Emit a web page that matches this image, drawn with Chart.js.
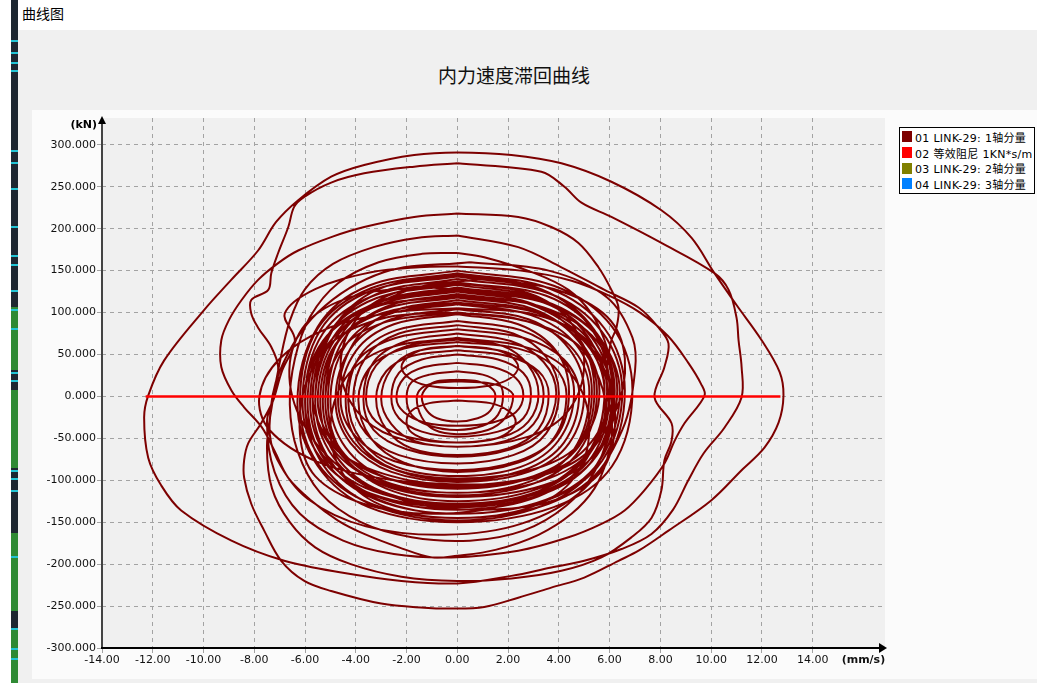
<!DOCTYPE html>
<html>
<head>
<meta charset="utf-8">
<title>曲线图</title>
<script src="https://cdn.jsdelivr.net/npm/chart.js@4/dist/chart.umd.min.js"></script>
<style>
  html, body { margin: 0; padding: 0; background: #ffffff; }
  body { width: 1037px; height: 683px; position: relative; overflow: hidden; font-family: "DejaVu Sans", "Noto Sans CJK SC", sans-serif; }
  #sidebar { position: absolute; left: 11px; top: 0; width: 7px; height: 683px; background: #1d2731; }
  .mark { position: absolute; left: 0; width: 7px; }
  #caption { position: absolute; left: 22px; top: 4px; font: 14px "Noto Sans CJK SC", sans-serif; color: #000; line-height: 18px; }
  #frame { position: absolute; left: 18px; top: 30px; width: 1019px; height: 653px; background: #f0f0f0; }
  #title { position: absolute; left: 19px; top: 61px; width: 990px; text-align: center; font: 19px "Noto Sans CJK SC", sans-serif; color: #111; line-height: 27px; }
  #panel { position: absolute; left: 32px; top: 110px; width: 1005px; height: 569px; background: #fbfbfb; }
  #chart { position: absolute; left: 32px; top: 110px; }
  #legend { position: absolute; left: 899px; top: 127px; width: 134px; height: 64px; border: 1px solid #000; background: #fff; padding-top: 1px; }
  .item { height: 15.7px; display: flex; align-items: center; font: 11px "DejaVu Sans", "Noto Sans CJK SC", sans-serif; letter-spacing: 0.3px; color: #000; white-space: nowrap; }
  .swatch { width: 10px; height: 11px; margin: 0 3px 0 2px; flex: none; }
</style>
</head>
<body>
<div id="sidebar"></div>
<div id="caption">曲线图</div>
<div id="frame"></div>
<div id="title">内力速度滞回曲线</div>
<div id="panel"></div>
<canvas id="chart" width="1005" height="570"></canvas>
<div id="legend"></div>
<script>
// Series names shown in the legend
const seriesNames = ['01 LINK-29: 1轴分量', '02 等效阻尼 1KN*s/m', '03 LINK-29: 2轴分量', '04 LINK-29: 3轴分量'];

// Axis tick values: velocity (mm/s) and force (kN)
const speedTicks = [-14, -12, -10, -8, -6, -4, -2, 0, 2, 4, 6, 8, 10, 12, 14];
const forceTicks = [-300, -250, -200, -150, -100, -50, 0, 50, 100, 150, 200, 250, 300];

// Hysteresis cycles of LINK-29 axis 1: [velocity mm/s, force kN]
const cycle01 = [[0,20],[0.8,18],[1.3,11],[1.5,1],[1.3,-17],[0.8,-26],[0,-30],[-0.8,-26],[-1.2,-17],[-1.4,-1],[-1.2,11],[-0.8,18]];
const cycle02 = [[0,30],[1.0,26],[1.6,17],[1.8,2],[1.6,-22],[1.0,-35],[0,-40],[-1.1,-35],[-1.8,-22],[-2.0,-2],[-1.8,17],[-1.1,26]];
const cycle03 = [[0,18],[1.2,16],[1.9,10],[2.2,1],[1.9,-25],[1.2,-40],[0,-45],[-0.9,-40],[-1.4,-25],[-1.6,-2],[-1.4,10],[-0.9,16]];
const cycle04 = [[0,40],[1.4,35],[2.3,22],[2.6,2],[2.3,-19],[1.4,-31],[0,-35],[-1.3,-31],[-2.1,-19],[-2.4,-2],[-2.1,22],[-1.3,35]];
const cycle05 = [[0,60],[1.3,57],[2.1,48],[2.4,35],[2.1,22],[1.3,13],[0,10],[-1.2,13],[-1.9,22],[-2.2,35],[-1.9,48],[-1.2,57]];
const cycle06 = [[0,-5],[1.3,-8],[2.0,-17],[2.3,-30],[2.0,-43],[1.3,-52],[0,-55],[-1.1,-52],[-1.8,-43],[-2.0,-30],[-1.8,-17],[-1.1,-8]];
const cycle07 = [[0,50],[1.6,44],[2.6,28],[2.9,3],[2.6,-26],[1.6,-42],[0,-48],[-1.4,-42],[-2.3,-26],[-2.6,-2],[-2.3,28],[-1.4,44]];
const cycle08 = [[0,55],[2.0,48],[3.2,30],[3.6,3],[3.2,-39],[2.0,-62],[0,-70],[-1.8,-62],[-2.8,-39],[-3.2,-3],[-2.8,30],[-1.8,48]];
const cycle09 = [[0,60],[1.9,53],[3.0,33],[3.4,3],[3.0,-33],[1.9,-53],[0,-60],[-1.7,-53],[-2.6,-33],[-3.0,-3],[-2.6,33],[-1.7,53]];
const cycle10 = [[0,65],[2.4,57],[3.8,36],[4.3,3],[3.8,-50],[2.4,-79],[0,-90],[-2.1,-79],[-3.4,-50],[-3.9,-4],[-3.4,36],[-2.1,57]];
const cycle11 = [[0,68],[1.8,60],[2.8,37],[3.2,3],[2.8,-30],[1.8,-48],[0,-55],[-2.0,-48],[-3.2,-30],[-3.6,-3],[-3.2,37],[-2.0,60]];
const cycle12 = [[0,70],[2.9,57],[4.6,22],[5.2,-38],[4.6,-97],[2.9,-132],[0,-145],[-2.8,-132],[-4.4,-97],[-5.0,-40],[-4.4,22],[-2.8,57]];
const cycle13 = [[0,75],[2.1,66],[3.4,41],[3.9,4],[3.4,-40],[2.1,-63],[0,-72],[-2.0,-63],[-3.3,-40],[-3.7,-4],[-3.3,41],[-2.0,66]];
const cycle14 = [[0,80],[2.6,70],[4.2,44],[4.8,4],[4.2,-55],[2.6,-88],[0,-100],[-2.4,-88],[-3.9,-55],[-4.4,-5],[-3.9,44],[-2.4,70]];
const cycle15 = [[0,85],[2.2,75],[3.5,47],[4.0,4],[3.5,-44],[2.2,-70],[0,-80],[-2.3,-70],[-3.6,-44],[-4.1,-4],[-3.6,47],[-2.3,75]];
const cycle16 = [[0,90],[2.5,79],[4.0,50],[4.6,5],[4.0,-52],[2.5,-84],[0,-95],[-2.4,-84],[-3.8,-52],[-4.3,-5],[-3.8,50],[-2.4,79]];
const cycle17 = [[0,98],[2.4,86],[3.9,54],[4.4,5],[3.9,-48],[2.4,-77],[0,-88],[-2.5,-77],[-4.0,-48],[-4.6,-4],[-4.0,54],[-2.5,86]];
const cycle18 = [[0,100],[2.9,88],[4.6,55],[5.2,5],[4.6,-63],[2.9,-101],[0,-115],[-2.9,-101],[-4.6,-63],[-5.2,-6],[-4.6,55],[-2.9,88]];
const cycle19 = [[0,104],[2.8,92],[4.4,57],[5.0,5],[4.4,-56],[2.8,-90],[0,-102],[-2.6,-90],[-4.2,-56],[-4.8,-5],[-4.2,57],[-2.6,92]];
const cycle20 = [[0,110],[2.9,97],[4.7,61],[5.3,6],[4.7,-61],[2.9,-97],[0,-110],[-2.8,-97],[-4.4,-61],[-5.0,-6],[-4.4,61],[-2.8,97]];
const cycle21 = [[0,112],[3.2,99],[5.1,62],[5.8,6],[5.1,-70],[3.2,-113],[0,-128],[-3.0,-113],[-4.8,-70],[-5.4,-6],[-4.8,62],[-3.0,99]];
const cycle22 = [[0,115],[3.1,101],[4.9,63],[5.6,6],[4.9,-54],[3.1,-86],[0,-98],[-2.6,-86],[-4.1,-54],[-4.7,-5],[-4.1,63],[-2.6,101]];
const cycle23 = [[0,118],[3.0,104],[4.8,65],[5.5,6],[4.8,-65],[3.0,-104],[0,-118],[-2.9,-104],[-4.7,-65],[-5.3,-6],[-4.7,65],[-2.9,104]];
const cycle24 = [[0,120],[3.4,106],[5.5,66],[6.2,6],[5.5,-81],[3.4,-130],[0,-148],[-3.3,-130],[-5.3,-81],[-6.0,-7],[-5.3,66],[-3.3,106]];
const cycle25 = [[0,122],[3.2,107],[5.2,67],[5.9,6],[5.2,-69],[3.2,-110],[0,-125],[-2.8,-110],[-4.5,-69],[-5.1,-6],[-4.5,67],[-2.8,107]];
const cycle26 = [[0,125],[3.0,110],[4.8,69],[5.4,6],[4.8,-59],[3.0,-95],[0,-108],[-3.0,-95],[-4.8,-59],[-5.5,-5],[-4.8,69],[-3.0,110]];
const cycle27 = [[0,126],[3.5,111],[5.6,69],[6.4,6],[5.6,-77],[3.5,-123],[0,-140],[-3.2,-123],[-5.2,-77],[-5.9,-7],[-5.2,69],[-3.2,111]];
const cycle28 = [[0,128],[3.3,113],[5.3,70],[6.0,6],[5.3,-72],[3.3,-114],[0,-130],[-3.1,-114],[-4.9,-72],[-5.6,-6],[-4.9,70],[-3.1,113]];
const cycle29 = [[0,130],[3.4,114],[5.5,72],[6.2,7],[5.5,-66],[3.4,-106],[0,-120],[-2.9,-106],[-4.6,-66],[-5.2,-6],[-4.6,72],[-2.9,114]];
const cycle30 = [[0,133],[3.2,117],[5.1,73],[5.8,7],[5.1,-74],[3.2,-119],[0,-135],[-3.2,-119],[-5.1,-74],[-5.8,-7],[-5.1,73],[-3.2,117]];
const cycle31 = [[0,135],[2.8,123],[4.4,91],[5.0,40],[4.4,-16],[2.8,-48],[0,-60],[-2.5,-48],[-4.0,-16],[-4.6,36],[-4.0,91],[-2.5,123]];
const cycle32 = [[0,136],[3.5,120],[5.5,75],[6.3,7],[5.5,-70],[3.5,-113],[0,-128],[-3.3,-113],[-5.3,-70],[-6.0,-6],[-5.3,75],[-3.3,120]];
const cycle33 = [[0,140],[3.6,123],[5.7,77],[6.5,7],[5.7,-77],[3.6,-123],[0,-140],[-3.1,-123],[-5.0,-77],[-5.7,-7],[-5.0,77],[-3.1,123]];
const cycle34 = [[0,143],[3.4,126],[5.4,79],[6.1,7],[5.4,-73],[3.4,-116],[0,-132],[-3.4,-116],[-5.4,-73],[-6.1,-7],[-5.4,79],[-3.4,126]];
const cycle35 = [[0,145],[3.3,128],[5.3,80],[6.0,7],[5.3,-63],[3.3,-101],[0,-115],[-3.1,-101],[-4.9,-63],[-5.6,-6],[-4.9,80],[-3.1,128]];
const cycle36 = [[0,147],[3.6,129],[5.8,81],[6.6,7],[5.8,-80],[3.6,-128],[0,-145],[-3.4,-128],[-5.5,-80],[-6.2,-7],[-5.5,81],[-3.4,129]];
const cycle37 = [[0,150],[3.8,132],[6.1,83],[6.9,8],[6.1,-83],[3.8,-132],[0,-150],[-3.5,-132],[-5.5,-83],[-6.3,-8],[-5.5,83],[-3.5,132]];
const cycle38 = [[0,155],[2.5,150],[4.5,138],[6.0,120],[7.2,100],[8.3,72],[9.1,40],[9.6,15],[9.74,1],[8.95,-32],[8.56,-53],[8.16,-80],[7.37,-112],[6.59,-136],[5.68,-152],[4.38,-168],[2.4,-184],[-0.24,-192],[-2.5,-188],[-4.5,-172],[-6.2,-140],[-7.2,-90],[-7.5,-30],[-7.2,0],[-6.9,31],[-6.4,67],[-6.8,99],[-5.6,128],[-3.4,148],[-1.5,154]];
const cycle39 = [[0,171],[1.06,166],[3.04,147],[4.38,127],[5.28,99],[5.8,67],[6.07,35],[6.15,-1],[6.0,-40],[5.4,-90],[4.3,-130],[2.6,-160],[0.5,-172],[-1.8,-168],[-3.8,-150],[-5.4,-115],[-6.3,-65],[-6.6,-10],[-6.4,45],[-5.8,95],[-4.7,135],[-3.1,160],[-1.4,170]];
const cycle40 = [[0,192],[2.4,178],[4.1,154],[5.8,127],[7.14,106],[7.93,82],[8.32,63],[8.16,35],[7.77,-1],[8.44,-32],[8.44,-53],[8.16,-76],[8.04,-112],[7.65,-145],[6.86,-168],[5.68,-192],[4.1,-208],[2.13,-217],[0,-220],[-2.2,-215],[-4.2,-200],[-5.6,-180],[-6.6,-150],[-7.3,-110],[-7.5,-60],[-7.3,-10],[-7.0,40],[-6.6,90],[-6.0,128],[-4.9,158],[-3.3,178],[-1.6,189]];
const cycle41 = [[0,218],[2.4,214],[3.7,202],[4.77,183],[5.56,154],[6.07,127],[6.35,106],[6.27,82],[6.07,67],[5.95,47],[5.88,27],[5.95,-1],[6.1,-40],[5.9,-75],[5.4,-110],[4.5,-140],[3.2,-165],[1.5,-183],[0,-190],[-1.0,-192],[-2.3,-180],[-3.67,-164],[-4.7,-148],[-5.76,-124],[-6.66,-97],[-7.2,-65],[-7.7,-37],[-8.4,-13],[-8.9,7],[-9.3,35],[-9.3,67],[-9.0,91],[-8.5,115],[-7.85,139],[-7.06,159],[-6.27,174],[-4.97,190],[-3.67,202],[-1.7,214]];
// two-turn peak cycle: inner loop right side, outer loop left side, outer loop right side, inner loop left side
const cycle42 = [[0,278],[3.31,268],[4.22,250],[4.89,231],[6.07,214],[8.04,183],[10.13,147],[10.69,127],[11.0,94],[11.08,67],[11.2,35],[11.2,-1],[10.53,-37],[9.7,-68],[9.1,-100],[8.5,-135],[7.65,-164],[6.47,-182],[5.0,-196],[3.7,-204],[2.13,-214],[0,-223],[-2.2,-220],[-4.57,-210],[-6.82,-196],[-8.9,-172],[-10.88,-136],[-11.67,-106],[-12.18,-73],[-12.34,-25],[-12.18,1],[-11.55,43],[-9.98,103],[-8.91,139],[-7.85,174],[-7.14,208],[-6.27,234],[-4.97,262],[-3.67,276],[-1.7,288],
  [0,291],[2.13,288],[4.1,278],[6.07,256],[8.04,222],[9.23,189],[10.13,147],[11.0,109],[11.99,67],[12.7,29],[12.85,1],[12.66,-31],[12.1,-61],[11.2,-88],[10.0,-124],[8.32,-160],[7.14,-184],[6.35,-196],[5.0,-216],[3.7,-228],[2.4,-240],[1.06,-251],[-0.24,-253],[-1.3,-252],[-3.0,-247],[-4.97,-232],[-6.03,-220],[-6.94,-196],[-7.61,-160],[-8.12,-128],[-8.4,-97],[-8.4,-76],[-8.24,-56],[-7.73,-32],[-7.22,-1],[-7.06,35],[-7.33,59],[-7.85,82],[-8.12,99],[-8.12,115],[-7.45,127],[-7.33,147],[-7.06,171],[-6.66,202],[-6.43,226],[-6.03,238],[-4.97,255],[-3.67,266],[-1.7,274]];
// tilted cycles crossing the dense core
const cycle43 = [[1,140],[3.8,128],[5.9,95],[6.6,45],[6.2,-20],[4.6,-85],[2.0,-128],[-1,-140],[-3.7,-128],[-5.6,-95],[-6.2,-45],[-5.9,20],[-4.4,85],[-1.8,128]];
const cycle44 = [[-1,130],[1.8,120],[4.4,85],[5.9,25],[6.2,-40],[5.6,-92],[3.7,-125],[1,-135],[-2.0,-125],[-4.6,-85],[-6.2,-25],[-6.6,40],[-5.8,92],[-3.8,122]];
const cycle45 = [[0.5,160],[3.6,150],[5.9,118],[6.9,70],[7.0,30],[6.5,-40],[5.0,-110],[2.5,-152],[-0.5,-165],[-3.6,-155],[-5.9,-122],[-7.1,-75],[-7.4,-35],[-7.0,30],[-5.5,100],[-2.9,148]];
const cycle46 = [[-0.5,100],[2.3,93],[4.6,65],[5.6,20],[5.8,-25],[5.0,-70],[2.9,-98],[0.5,-105],[-2.2,-98],[-4.6,-68],[-5.6,-20],[-5.6,25],[-4.8,68],[-2.8,94]];
const cycle47 = [[0,105],[3,98],[5,70],[6,20],[5.6,-40],[4,-85],[1,-105],[-2.5,-100],[-5.5,-78],[-7.4,-40],[-7.8,0],[-7.0,45],[-5.2,80],[-2.6,100]];

// Equivalent damping line (1 kN*s/m)
const dampingLine = [[-12.28, 0], [12.73, 0]];

const cycles = [cycle01, cycle02, cycle03, cycle04, cycle05, cycle06, cycle07, cycle08, cycle09, cycle10,
  cycle11, cycle12, cycle13, cycle14, cycle15, cycle16, cycle17, cycle18, cycle19, cycle20,
  cycle21, cycle22, cycle23, cycle24, cycle25, cycle26, cycle27, cycle28, cycle29, cycle30,
  cycle31, cycle32, cycle33, cycle34, cycle35, cycle36, cycle37, cycle43, cycle44, cycle45,
  cycle46, cycle47, cycle38, cycle39, cycle40, cycle41, cycle42];

const toXY = pairs => pairs.map(([x, y]) => ({ x, y }));
// each cycle is closed on its first sample; a null force value separates cycles
const axis1Path = cycles.flatMap(c => toXY([...c, c[0]]).concat([{ x: c[0][0], y: null }]));
const UNIT_TICK = 16; // slot on the velocity axis that carries the unit label

const plotFrame = {
  id: 'plotFrame',
  beforeDraw(chart) {
    const { ctx, chartArea: a } = chart;
    ctx.save();
    ctx.fillStyle = '#f0f0f0';
    ctx.fillRect(a.left, a.top, a.right - a.left, a.bottom - a.top);
    ctx.restore();
  },
  afterDraw(chart) {
    const { ctx, chartArea: a } = chart;
    ctx.save();
    ctx.setLineDash([]);
    // vertical axis with arrow
    ctx.strokeStyle = '#444';
    ctx.lineWidth = 2;
    ctx.beginPath();
    ctx.moveTo(a.left, a.bottom + 1);
    ctx.lineTo(a.left, a.top + 2);
    ctx.stroke();
    ctx.fillStyle = '#000';
    ctx.beginPath();
    ctx.moveTo(a.left, a.top - 2);
    ctx.lineTo(a.left - 4, a.top + 6);
    ctx.lineTo(a.left + 4, a.top + 6);
    ctx.closePath();
    ctx.fill();
    // horizontal axis with arrow
    ctx.strokeStyle = '#000';
    ctx.beginPath();
    ctx.moveTo(a.left - 1, a.bottom);
    ctx.lineTo(a.right - 4, a.bottom);
    ctx.stroke();
    ctx.beginPath();
    ctx.moveTo(a.right + 2, a.bottom);
    ctx.lineTo(a.right - 6, a.bottom - 5);
    ctx.lineTo(a.right - 6, a.bottom + 5);
    ctx.closePath();
    ctx.fill();
    // force unit
    ctx.font = 'bold 11px "DejaVu Sans", sans-serif';
    ctx.textAlign = 'right';
    ctx.textBaseline = 'middle';
    ctx.fillStyle = '#000';
    ctx.fillText('(kN)', a.left - 5, a.top + 7);
    ctx.restore();
  }
};

const chart = new Chart(document.getElementById('chart'), {
  type: 'scatter',
  data: {
    datasets: [
      { label: seriesNames[0], data: axis1Path, showLine: true, spanGaps: false, borderColor: '#7d0000', backgroundColor: '#7d0000', borderWidth: 2, pointRadius: 0, tension: 0.35, order: 2 },
      { label: seriesNames[1], data: toXY(dampingLine), showLine: true, borderColor: '#ff0000', backgroundColor: '#ff0000', borderWidth: 2.5, pointRadius: 0, order: 1 },
      { label: seriesNames[2], data: [], showLine: true, borderColor: '#808000', backgroundColor: '#808000', borderWidth: 2, pointRadius: 0, order: 3 },
      { label: seriesNames[3], data: [], showLine: true, borderColor: '#0080ff', backgroundColor: '#0080ff', borderWidth: 2, pointRadius: 0, order: 4 }
    ]
  },
  options: {
    responsive: false,
    animation: false,
    devicePixelRatio: 1,
    layout: { padding: { left: 0, top: 8, right: 152, bottom: 0 } },
    plugins: { legend: { display: false }, tooltip: { enabled: false } },
    scales: {
      x: {
        type: 'linear',
        min: -14,
        max: 16.85,
        afterBuildTicks: s => { s.ticks = [...speedTicks, UNIT_TICK].map(value => ({ value })); },
        afterFit: s => { s.height = 32; },
        border: { display: false, dash: [4, 4] },
        grid: {
          color: c => (c.tick && c.tick.value === UNIT_TICK) ? 'rgba(0,0,0,0)' : '#a3a3a3',
          tickColor: c => (c.tick && c.tick.value === UNIT_TICK) ? 'rgba(0,0,0,0)' : '#a3a3a3',
          tickLength: 5,
          lineWidth: 1
        },
        ticks: {
          autoSkip: false,
          maxRotation: 0,
          padding: 1,
          color: '#111',
          font: c => (c.tick && c.tick.value === UNIT_TICK)
            ? { family: 'DejaVu Sans', size: 11, weight: 'bold' }
            : { family: 'DejaVu Sans', size: 11 },
          callback: v => v === UNIT_TICK ? '(mm/s)' : Number(v).toFixed(2)
        }
      },
      y: {
        type: 'linear',
        min: -300,
        max: 332,
        afterBuildTicks: s => { s.ticks = forceTicks.map(value => ({ value })); },
        afterFit: s => { s.width = 70; },
        border: { display: false, dash: [4, 4] },
        grid: { color: '#a3a3a3', tickColor: '#a3a3a3', tickLength: 5, lineWidth: 1 },
        ticks: {
          padding: 1,
          color: '#111',
          font: { family: 'DejaVu Sans', size: 11 },
          callback: v => Number(v).toFixed(3)
        }
      }
    }
  },
  plugins: [plotFrame]
});

// Legend box built from the chart's own datasets
const legend = document.getElementById('legend');
chart.data.datasets.forEach(ds => {
  const row = document.createElement('div');
  row.className = 'item';
  const sw = document.createElement('span');
  sw.className = 'swatch';
  sw.style.background = ds.borderColor;
  const label = document.createElement('span');
  label.textContent = ds.label;
  row.appendChild(sw);
  row.appendChild(label);
  legend.appendChild(row);
});

// Window edge decoration: green panes and cyan ticks on the dark strip
const sidebar = document.getElementById('sidebar');
const addMark = (top, height, colour) => {
  const m = document.createElement('div');
  m.className = 'mark';
  m.style.top = top + 'px';
  m.style.height = height + 'px';
  m.style.background = colour;
  sidebar.appendChild(m);
};
[[307, 63], [390, 78], [533, 78], [630, 53]].forEach(([t, h]) => addMark(t, h, '#2f8a34'));
[40, 52, 62, 70, 150, 162, 188, 226, 255, 264, 290, 309, 328, 372, 380, 470, 478, 490, 556, 628, 648, 658].forEach(t => addMark(t, 1.5, '#22c4d4'));
</script>
</body>
</html>
